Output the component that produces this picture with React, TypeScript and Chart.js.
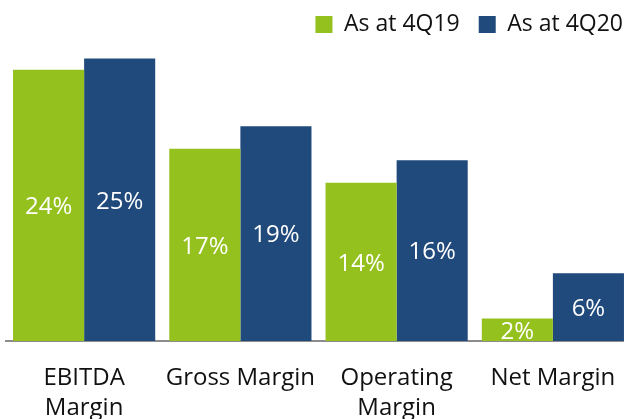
import React, { useEffect, useRef } from "react";
import { Chart, registerables } from "chart.js";

Chart.register(...registerables);

const categories: (string | string[])[] = [["EBITDA", "Margin"], "Gross Margin", ["Operating", "Margin"], "Net Margin"];
const series4Q19: number[] = [24, 17, 14, 2];
const series4Q20: number[] = [25, 19, 16, 6];
const seriesNames: string[] = ["As at 4Q19", "As at 4Q20"];

const FONT = "'Open Sans', sans-serif";

const barLabels = {
  id: "barLabels",
  afterDatasetsDraw(chart: any) {
    const ctx = chart.ctx;
    ctx.save();
    ctx.fillStyle = "#ffffff";
    ctx.font = `24px ${FONT}`;
    ctx.textAlign = "center";
    ctx.textBaseline = "middle";
    chart.data.datasets.forEach((ds: any, i: number) => {
      const meta = chart.getDatasetMeta(i);
      meta.data.forEach((bar: any, j: number) => {
        const p = bar.getProps(["x", "y", "base"], true);
        ctx.fillText(`${ds.data[j]}%`, p.x, (p.y + p.base) / 2 + 2);
      });
    });
    ctx.restore();
  },
};

const legendShift = {
  id: "legendShift",
  afterLayout(chart: any) {
    const lg = chart.legend;
    if (lg) {
      lg.left += 11;
      lg.right += 11;
    }
  },
};

export default function App() {
  const ref = useRef<HTMLCanvasElement>(null);
  useEffect(() => {
    document.body.style.margin = "0";
    document.body.style.overflow = "hidden";
    const chart = new Chart(ref.current!, {
      type: "bar",
      data: {
        labels: categories,
        datasets: [
          { label: seriesNames[0], data: series4Q19, backgroundColor: "#95c11f", categoryPercentage: 0.91, barPercentage: 1.0 },
          { label: seriesNames[1], data: series4Q20, backgroundColor: "#214a7c", categoryPercentage: 0.91, barPercentage: 1.0 },
        ],
      },
      options: {
        animation: false,
        responsive: false,
        layout: { padding: { left: 6, right: 9, top: -6, bottom: -18 } },
        plugins: {
          legend: {
            position: "top",
            align: "end",
            labels: {
              boxWidth: 17,
              boxHeight: 17,
              padding: 19,
              color: "#111111",
              font: { family: FONT, size: 23 },
            },
          },
          tooltip: { enabled: false },
        },
        scales: {
          x: {
            grid: { display: false },
            border: { display: true, color: "#8c8c8c", width: 2 },
            ticks: { color: "#111111", font: { family: FONT, size: 24, lineHeight: 1.25 }, maxRotation: 0, autoSkip: false, padding: 14 },
          },
          y: {
            display: false,
            min: 0,
            max: 26.1,
          },
        },
      },
      plugins: [barLabels, legendShift],
    });
    return () => chart.destroy();
  }, []);
  return (
    <div style={{ width: 640, height: 419 }}>
      <canvas ref={ref} width={640} height={419} style={{ display: "block" }} />
    </div>
  );
}
